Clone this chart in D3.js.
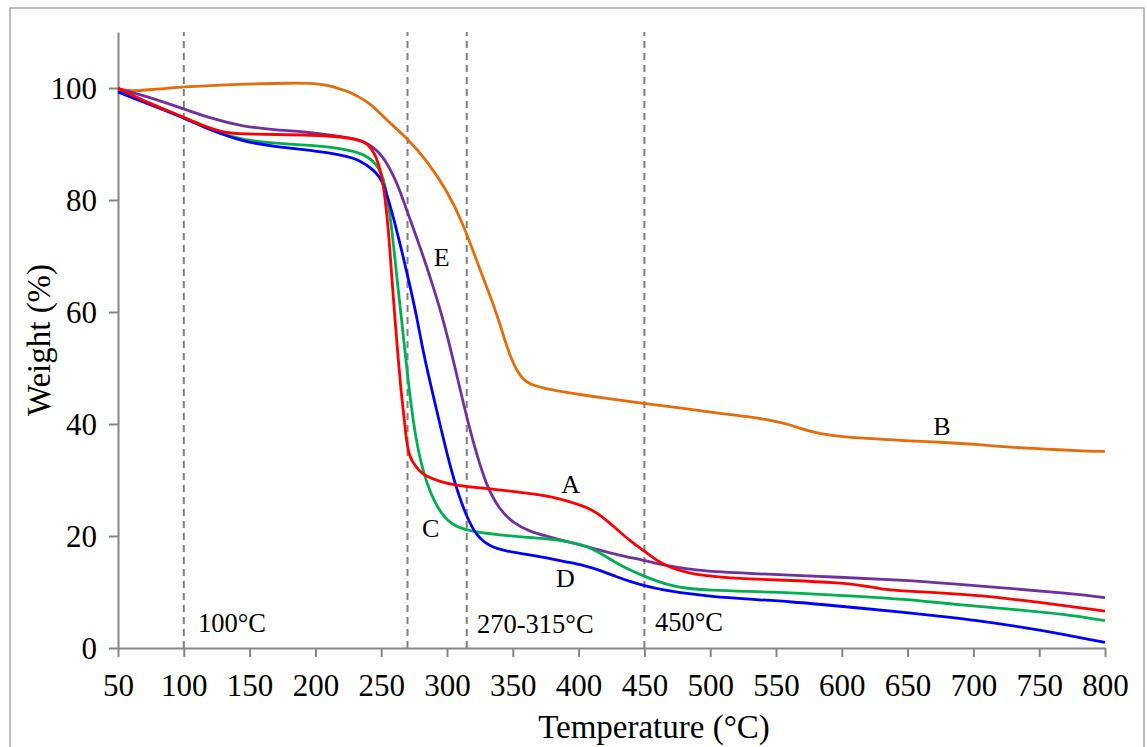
<!DOCTYPE html>
<html><head><meta charset="utf-8">
<script src="https://cdn.jsdelivr.net/npm/d3@7"></script>
<style>
html,body{margin:0;padding:0;background:#fff;}
text{font-family:"Liberation Serif","Times New Roman",serif;fill:#000;}
</style></head>
<body><svg id="c" width="1147" height="747"></svg>
<script>
// ---- data ----
const xTicks = [50,100,150,200,250,300,350,400,450,500,550,600,650,700,750,800];
const yTicks = [0,20,40,60,80,100];
const markerTemps = [100,270,315,450];

const tempA = [50,70,98,115,132,145,170,196,221,234,241.5,246.6,249,251.6,255.4,258,260.5,263,265,266.8,269.3,271.5,274.4,279,284.5,295,304.8,330,363,380,395,408,418,430,440,450,460,470,485,500,530,560,600,615,630,645,670,700,750,800];
const weightA = [100,97.6,95,93.2,91.9,91.8,91.7,91.6,91.3,90.7,89.8,87.5,85.5,83,75.2,66.3,58.6,51.4,46,42.5,36.6,34.3,33,31.6,30.6,29.7,29.1,28.5,27.6,27,26,25,23.5,21,19,17.3,15.5,14.3,13.3,12.8,12.3,12.1,11.6,11.2,10.5,10.2,9.9,9.5,8.2,6.6];

const tempB = [50,59,75,98.4,125,145,183,200,208.6,218,226,233,241.5,254,270,284.5,299.7,312.4,325,335.2,342,347.9,355.5,363,378,400,420,449,480,500,530,550,560,570,583,602,630,650,680,700,730,750,780,800];
const weightB = [99.8,99.4,99.7,100.2,100.5,100.7,100.9,100.8,100.5,99.9,99.3,98.4,97.3,94.3,91,87.1,81.8,75.8,67.5,61.5,56.5,52,48.4,47,46.1,45.3,44.6,43.7,42.8,42.1,41.3,40.5,39.9,39.1,38.2,37.7,37.3,37,36.7,36.4,35.8,35.6,35.2,35.1];

const tempC = [50,70,98,120,145,170,196,221,236.4,246.6,252.9,258,261.8,265.5,268.8,273,278.2,284.5,292.1,302.3,317.5,340,363,378,390,403.6,415,429,440,449,460,470,480,500,530,560,600,650,681,735,770,800];
const weightC = [99.5,97.5,94.9,92.4,90.7,90.1,89.8,89.2,88.3,86.5,83.6,75.2,66.3,58.6,51.4,42.5,34.8,29.4,25.2,22,20.8,20.2,19.7,19.5,19.1,18.4,17.2,15.1,13.8,12.9,11.9,11.2,10.7,10.3,10.1,9.9,9.4,8.7,7.9,6.8,6,4.9];

const tempD = [50,69,98.4,120,145,170.6,196,221,234,244,251.6,260.5,266.8,271.9,277,282,292.1,299.8,307.4,315,322.6,332.7,345,363,378,390,403.6,415,429,440,449,465,480,500,530,560,602,650,681,700,735,770,800];
const weightD = [99.3,97.5,94.9,92.5,90.4,89.5,88.9,88,87.1,85.4,83.6,75.8,69.8,64.6,59.2,52.6,42.5,34.8,28.2,23.4,19.9,18.1,17.3,16.6,16,15.4,14.8,14,12.7,11.8,11.2,10.3,9.8,9.2,8.7,8.3,7.4,6.3,5.5,5,3.8,2.4,1.0];

const tempE = [50,75,98.4,120,145,170.6,196,221,236.4,249,257,263,269.3,279.5,289.6,297.2,304.8,312.4,320,330,340.3,350.4,363,375,391,405,416,430,449,465,480,496,530,602,650,681,735,770,800];
const weightE = [99.9,98.3,96.4,94.6,93.1,92.5,92.1,91.3,90.7,88.6,85.5,82.5,78.2,71.7,64.5,58.6,51.4,43.7,36.6,28.8,24.6,22.3,20.8,20,19,18.2,17.5,16.6,15.7,14.8,14.2,13.7,13.3,12.6,12.1,11.5,10.5,9.8,9.0];

const seriesNames = ["A","B","C","D","E"];
const seriesColors = ["#FF0000","#E46C0A","#00B050","#0000FF","#7030A0"];
const seriesTemps = [tempA,tempB,tempC,tempD,tempE];
const seriesWeights = [weightA,weightB,weightC,weightD,weightE];

// curve letter labels (temperature, weight)
const labelText = ["A","B","C","D","E"];
const labelTemp = [394,676,287.5,390,296];
const labelWeight = [27.7,38,19.9,10.9,68.2];

// region annotations (left anchored)
const noteText = ["100°C","270-315°C","450°C"];
const noteTemp = [110.8,322.8,458];
const noteWeight = [2.9,2.6,3.1];

// ---- drawing ----
const svg = d3.select("#c");
const L = 118, R = 1105, T = 32, B = 648;
const x = d3.scaleLinear().domain([50,800]).range([L,R]);
const y = d3.scaleLinear().domain([0,110]).range([B,T]);

// outer border
svg.append("rect").attr("x",10).attr("y",8).attr("width",1134).attr("height",760)
  .attr("fill","none").attr("stroke","#a6a6a6").attr("stroke-width",1.5);

// dashed markers
svg.append("g").selectAll("line").data(markerTemps).join("line")
  .attr("x1",d=>x(d)).attr("x2",d=>x(d)).attr("y1",y(0)).attr("y2",y(110))
  .attr("stroke","#7f7f7f").attr("stroke-width",2).attr("stroke-dasharray","7,5");

// axes
const gx = svg.append("g").attr("transform",`translate(0,${B})`)
  .call(d3.axisBottom(x).tickValues(xTicks).tickSize(9).tickSizeOuter(0).tickPadding(10));
const gy = svg.append("g").attr("transform",`translate(${L},0)`)
  .call(d3.axisLeft(y).tickValues(yTicks).tickSize(9).tickSizeOuter(0).tickPadding(12));
[gx,gy].forEach(g=>{
  g.select(".domain").attr("stroke","#868686").attr("stroke-width",2);
  g.selectAll(".tick line").attr("stroke","#868686").attr("stroke-width",2);
  g.selectAll(".tick text").attr("font-family","Liberation Serif").attr("font-size",31).attr("fill","#000");
});
gx.selectAll(".tick text").attr("dy","0.95em");
gy.selectAll(".tick text").attr("dy","0.34em");

// lines
const line = d3.line().curve(d3.curveBasis).x(d=>x(d[0])).y(d=>y(d[1]));
const order = [1,4,2,3,0];
order.forEach(i=>{
  const pts = seriesTemps[i].map((t,k)=>[t,seriesWeights[i][k]]);
  svg.append("path").datum(pts).attr("d",line).attr("fill","none")
    .attr("stroke",seriesColors[i]).attr("stroke-width",2.8).attr("stroke-linejoin","round");
});

// labels
svg.append("g").selectAll("text").data(labelText).join("text")
  .attr("x",(d,i)=>x(labelTemp[i])).attr("y",(d,i)=>y(labelWeight[i]))
  .attr("text-anchor","middle").attr("font-size",26).text(d=>d);

svg.append("g").selectAll("text").data(noteText).join("text")
  .attr("x",(d,i)=>x(noteTemp[i])).attr("y",(d,i)=>y(noteWeight[i]))
  .attr("font-size",26.5).text(d=>d);

// axis titles
svg.append("text").attr("x",654).attr("y",738).attr("text-anchor","middle")
  .attr("font-size",33).text("Temperature (°C)");
svg.append("text").attr("transform","translate(50,340) rotate(-90)").attr("text-anchor","middle")
  .attr("font-size",33).text("Weight (%)");
</script></body></html>
